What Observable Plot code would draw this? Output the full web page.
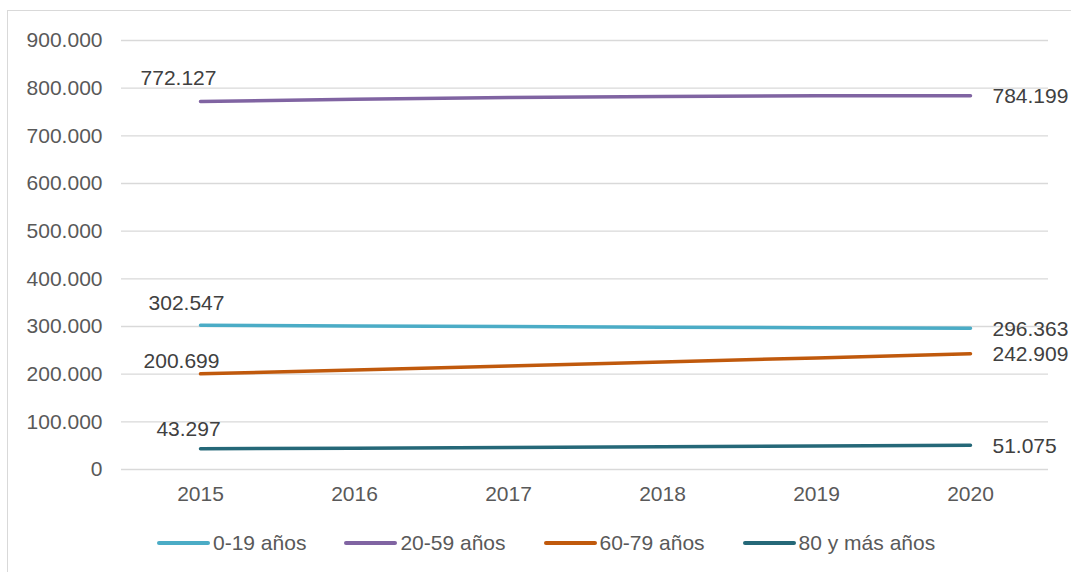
<!DOCTYPE html>
<html>
<head>
<meta charset="utf-8">
<script src="https://cdn.jsdelivr.net/npm/d3@7"></script>
<script src="https://cdn.jsdelivr.net/npm/@observablehq/plot@0.6"></script>
<style>
  html, body { margin: 0; padding: 0; background: #fff; }
  body { width: 1071px; height: 572px; position: relative; overflow: hidden; font-family: "Liberation Sans", Arial, sans-serif; }
  #frame { position: absolute; left: 7px; top: 10px; width: 1100px; height: 600px; border: 1px solid #d9d9d9; box-sizing: border-box; }
  #chart { position: absolute; left: 0; top: 0; }
  #legend { position: absolute; left: 157px; top: 530px; display: flex; align-items: center; font-size: 21px; color: #595959; line-height: 26px; }
  .item { display: flex; align-items: center; margin-right: 38px; }
  .sw { width: 53px; height: 4px; border-radius: 2px; margin-right: 3px; }
</style>
</head>
<body>
<div id="frame"></div>
<div id="chart"></div>
<div id="legend"></div>
<script>
const years = ["2015", "2016", "2017", "2018", "2019", "2020"];
const seriesNames = ["0-19 años", "20-59 años", "60-79 años", "80 y más años"];
const values0to19 = [302547, 301200, 299800, 298600, 297400, 296363];
const values20to59 = [772127, 776800, 780300, 782600, 783900, 784199];
const values60to79 = [200699, 208700, 217100, 225500, 234100, 242909];
const values80plus = [43297, 44800, 46400, 47900, 49500, 51075];
const seriesColors = ["#4bacc6", "#8064a2", "#c0590c", "#256878"];
const yTicks = [0, 100000, 200000, 300000, 400000, 500000, 600000, 700000, 800000, 900000];

// label placement (styling): offsets of first-year labels per series
const firstLabelOffset = {
  "0-19 años": [-14, -22],
  "20-59 años": [-22, -23],
  "60-79 años": [-19, -13],
  "80 y más años": [-12, -20]
};

const allValues = [values0to19, values20to59, values60to79, values80plus];
const data = [];
seriesNames.forEach((s, i) => years.forEach((y, j) => data.push({series: s, year: y, value: allValues[i][j]})));

const loc = d3.formatLocale({decimal: ",", thousands: ".", grouping: [3], currency: ["", ""]});
const fmt = loc.format(",d");

const firstPts = data.filter(d => d.year === years[0]);
const lastPts = data.filter(d => d.year === years[years.length - 1]);

const marks = [
  Plot.ruleY(yTicks, {stroke: "#d9d9d9", strokeWidth: 1.3}),
  Plot.line(data, {x: "year", y: "value", z: "series", stroke: "series", strokeWidth: 3.5, strokeLinecap: "round"}),
  Plot.text(lastPts, {x: "year", y: "value", text: d => fmt(d.value), textAnchor: "start", dx: 22, dy: 1, fill: "#404040", fontSize: 21})
];
firstPts.forEach(d => {
  const [dx, dy] = firstLabelOffset[d.series];
  marks.push(Plot.text([d], {x: "year", y: "value", text: d => fmt(d.value), dx, dy, fill: "#404040", fontSize: 21}));
});
marks.push(
  Plot.axisY({ticks: yTicks, tickFormat: fmt, tickSize: 0, tickPadding: 19, fontSize: 21, color: "#595959"}),
  Plot.axisX({tickSize: 0, tickPadding: 17, fontSize: 21, color: "#595959"})
);

const chart = Plot.plot({
  width: 1071,
  height: 500,
  marginTop: 40,
  marginBottom: 31,
  marginLeft: 121,
  marginRight: 23,
  style: {fontFamily: "'Liberation Sans', Arial, sans-serif", background: "transparent", overflow: "visible"},
  x: {type: "point", domain: years, label: null},
  y: {domain: [0, 900000], label: null},
  color: {domain: seriesNames, range: seriesColors},
  marks
});
document.getElementById("chart").appendChild(chart);

const legend = document.getElementById("legend");
seriesNames.forEach((s, i) => {
  const item = document.createElement("div");
  item.className = "item";
  const sw = document.createElement("div");
  sw.className = "sw";
  sw.style.background = seriesColors[i];
  const t = document.createElement("span");
  t.textContent = s;
  item.appendChild(sw);
  item.appendChild(t);
  legend.appendChild(item);
});
</script>
</body>
</html>
